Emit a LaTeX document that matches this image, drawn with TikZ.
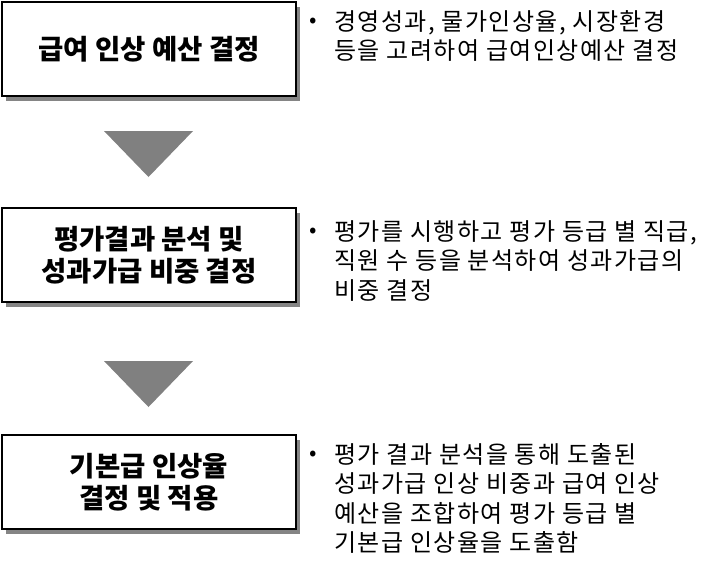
\documentclass[tikz,border=0pt]{standalone}
\usepackage{fontspec}
\setmainfont{Noto Sans CJK KR}
\newfontfamily\descfont{Noto Sans CJK KR}[LetterSpace=6]
\usetikzlibrary{shadows}

\begin{document}
\begin{tikzpicture}[x=1pt, y=-1pt,
		box/.style = {rectangle, draw=black, fill=white, line width=2.5pt, minimum width=294, minimum height=94, align=center,
			font=\bfseries\fontsize{27.5pt}{32pt}\selectfont,
			drop shadow={shadow xshift=4pt, shadow yshift=-5pt, opacity=1, fill=black!48}},
		tri/.style = {fill=black!50},
		bul/.style = {inner sep=0, font=\fontsize{22pt}{24pt}\selectfont},
		desc/.style = {anchor=north west, inner sep=0, align=left, font=\descfont\fontsize{24pt}{29.5pt}\selectfont}
		]
		\useasboundingbox (0,0) rectangle (712,574);
		
		%Nodes
		\node[box]	(b1)	at	(149, 49)	{급여 인상 예산 결정};
		\node[box]	(b2)	at	(149, 255)	{평가결과 분석 및\\성과가급 비중 결정};
		\node[box]	(b3)	at	(149, 482)	{기본급 인상율\\결정 및 적용};
		
		\node[bul]	(p1)	at	(313, 23)	{•};
		\node[bul]	(p2)	at	(313, 233)	{•};
		\node[bul]	(p3)	at	(313, 456)	{•};
		
		\node[desc]	(d1)	at	(334, 10)	{경영성과, 물가인상율, 시장환경\\등을 고려하여 급여인상예산 결정};
		\node[desc]	(d2)	at	(334, 220)	{평가를 시행하고 평가 등급 별 직급,\\직원 수 등을 분석하여 성과가급의\\비중 결정};
		\node[desc]	(d3)	at	(334, 443)	{평가 결과 분석을 통해 도출된\\성과가급 인상 비중과 급여 인상\\예산을 조합하여 평가 등급 별\\기본급 인상율을 도출함};
		
		%Arrows
		\fill[tri]	(104, 131) -- (193, 131) -- (148.5, 177) -- cycle;
		\fill[tri]	(104, 361) -- (193, 361) -- (148.5, 407) -- cycle;
	\end{tikzpicture}
\end{document}
